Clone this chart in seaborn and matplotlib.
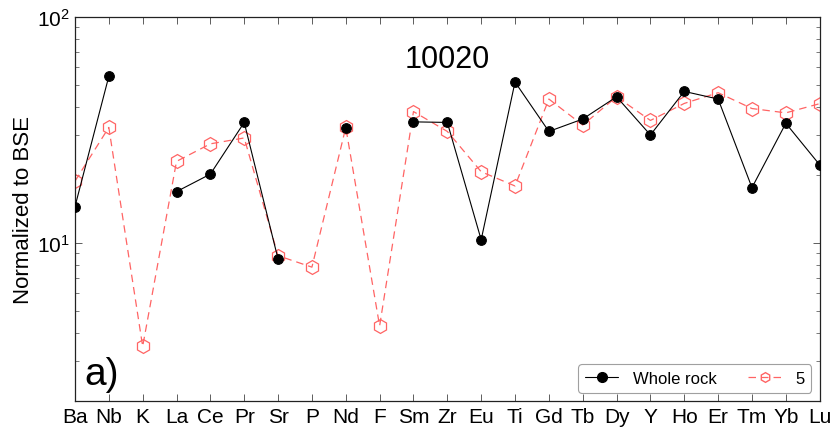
import numpy as np
import pandas as pd
import matplotlib
matplotlib.use("Agg")
import matplotlib.pyplot as plt
from matplotlib.lines import Line2D
from matplotlib.ticker import LogLocator, LogFormatterSciNotation, NullFormatter
import seaborn as sns

elements = ["Ba", "Nb", "K", "La", "Ce", "Pr", "Sr", "P", "Nd", "F", "Sm", "Zr",
            "Eu", "Ti", "Gd", "Tb", "Dy", "Y", "Ho", "Er", "Tm", "Yb", "Lu"]

whole_rock = [14.5, 54.7, np.nan, 16.9, 20.2, 34.2, 8.5, np.nan, 32.2, np.nan, 34.4, 34.2,
              10.35, 51.6, 31.2, 35.4, 44.4, 30.1, 46.9, 43.4, 17.6, 33.9, 22.2]

sample_5 = [18.8, 32.5, 3.49, 23.0, 27.5, 29.2, 8.8, 7.83, 32.5, 4.3, 38.2, 31.2,
            20.7, 17.9, 43.4, 33.3, 44.4, 34.9, 41.5, 46.3, 39.4, 37.7, 41.4]

sample_name = "10020"
panel_label = "a)"
ylabel = "Normalized to BSE"

sns.set_style("ticks")
plt.rcParams["font.family"] = ["Liberation Sans", "DejaVu Sans"]
plt.rcParams["mathtext.fontset"] = "custom"
plt.rcParams["mathtext.rm"] = "Liberation Sans"
plt.rcParams["text.color"] = "black"
plt.rcParams["axes.labelcolor"] = "black"
plt.rcParams["xtick.color"] = "black"
plt.rcParams["ytick.color"] = "black"

pos = np.arange(len(elements))

wr = pd.DataFrame({"pos": pos, "val": whole_rock})
# break the line wherever a value is missing
wr["seg"] = wr["val"].isna().cumsum()
wr = wr.dropna()

s5 = pd.DataFrame({"pos": pos, "val": sample_5})

fig = plt.figure(figsize=(8.33, 4.31), dpi=100)
ax = fig.add_axes([0.090, 0.067, 0.894, 0.891])

red = "#ff6464"
dash = (0, (6, 4))
sns.lineplot(data=s5, x="pos", y="val", ax=ax, color=red, linewidth=0.9,
             linestyle=dash, marker="h", markersize=10,
             markerfacecolor="none", markeredgecolor=red, markeredgewidth=0.9,
             legend=False, zorder=2)
sns.lineplot(data=wr, x="pos", y="val", units="seg", estimator=None, ax=ax,
             color="black", linewidth=0.8, marker="o", markersize=7,
             markerfacecolor="black", markeredgecolor="black",
             legend=False, zorder=3)

ax.set_yscale("log")
ax.set_ylim(2, 100)
ax.set_xlim(0, len(elements) - 1)
ax.set_xticks(pos)
ax.set_xticklabels(elements)
ax.yaxis.set_major_locator(LogLocator(base=10))
ax.yaxis.set_major_formatter(LogFormatterSciNotation())
ax.yaxis.set_minor_locator(LogLocator(base=10, subs=np.arange(2, 10)))
ax.yaxis.set_minor_formatter(NullFormatter())
ax.tick_params(axis="both", which="both", direction="in", top=True, right=True,
               bottom=True, left=True, colors="black")
ax.tick_params(axis="both", which="major", length=5, width=0.6, labelsize=15,
               pad=4, color="#444444")
ax.tick_params(axis="y", which="minor", length=3, width=0.5, color="#444444")
ax.set_xlabel("")
ax.set_ylabel(ylabel, fontsize=16, labelpad=2)
for sp in ax.spines.values():
    sp.set_color("#222222")
    sp.set_linewidth(0.9)

ax.text(0.5, 0.89, sample_name, transform=ax.transAxes, ha="center", va="center",
        fontsize=22)
ax.text(0.012, 0.07, panel_label, transform=ax.transAxes, ha="left", va="center",
        fontsize=28)

handles = [
    Line2D([], [], color="black", linewidth=0.8, marker="o", markersize=7,
           markerfacecolor="black"),
    Line2D([], [], color=red, linewidth=0.9, linestyle=dash, marker="h",
           markersize=7, markerfacecolor="none", markeredgecolor=red),
]
leg = ax.legend(handles, ["Whole rock", "5"], loc="lower right", ncol=2,
                fontsize=12, frameon=True, fancybox=True, edgecolor="#888888",
                columnspacing=1.9, handlelength=2.0, handletextpad=0.85,
                borderaxespad=0.5, borderpad=0.4)
leg.get_frame().set_linewidth(0.8)

fig.savefig("out.png", dpi=100)
